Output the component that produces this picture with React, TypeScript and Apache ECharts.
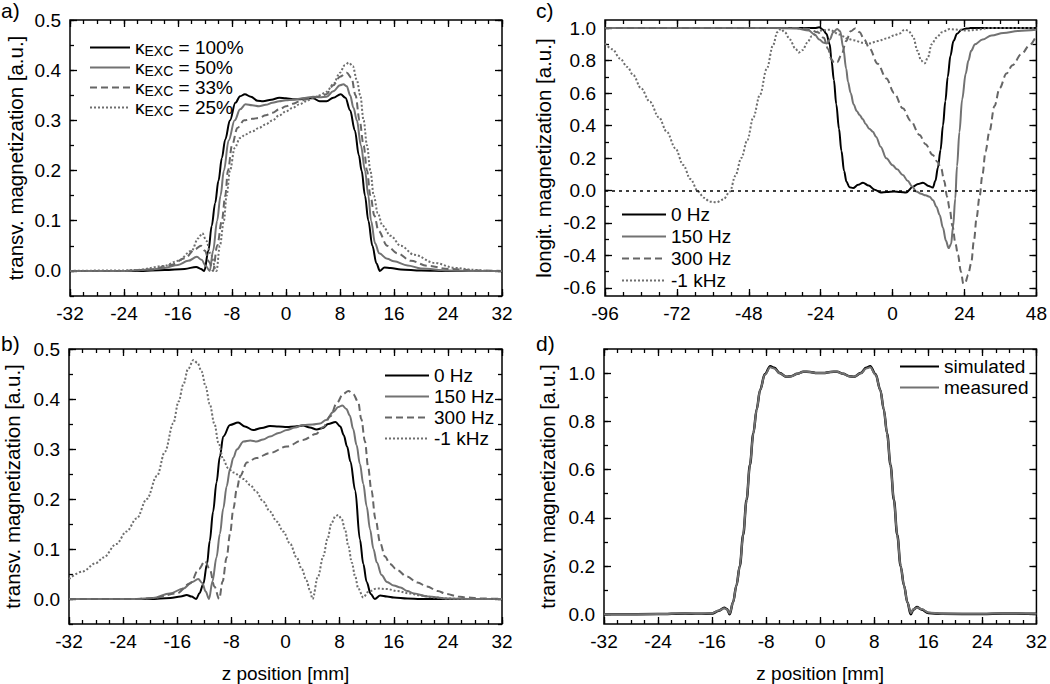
import React, { useEffect, useRef } from 'react';
import * as echarts from 'echarts';

const FONT = '"Liberation Sans", Arial, Helvetica, sans-serif';

// ---------- Panel a: transverse magnetization vs excitation fraction ----------
const aNames = ['κEXC = 100%', 'κEXC = 50%', 'κEXC = 33%', 'κEXC = 25%'];
const aK100: [number, number][] = [[-32,0],[-22,0],[-18,0.002],[-15,0.004],[-13.3,0.008],[-12.6,0.004],[-12.1,0],[-11.5,0.04],[-11,0.09],[-10.5,0.135],[-10,0.18],[-9.5,0.225],[-9,0.262],[-8.3,0.3],[-7.5,0.335],[-6.8,0.348],[-6.1,0.352],[-5.2,0.347],[-4.2,0.339],[-3.4,0.338],[-2.2,0.341],[-1,0.345],[0,0.344],[1,0.342],[2,0.342],[3,0.344],[4,0.344],[5,0.338],[6,0.338],[7,0.345],[8.1,0.352],[8.8,0.345],[9.5,0.32],[10.2,0.28],[10.8,0.23],[11.2,0.2],[11.7,0.15],[12.2,0.1],[12.8,0.05],[13.4,0.015],[13.9,0],[14.6,0.007],[15.5,0.006],[17,0.003],[20,0.001],[24,0],[32,0]];
const aK50: [number, number][] = [[-32,0],[-24,0],[-20,0.003],[-18,0.006],[-16,0.012],[-14.5,0.02],[-13.2,0.028],[-12.5,0.022],[-11.9,0.01],[-11.3,0],[-10.8,0.04],[-10.2,0.1],[-9.7,0.15],[-9.2,0.2],[-8.5,0.26],[-7.6,0.3],[-6.8,0.322],[-6,0.332],[-5,0.33],[-4,0.328],[-3,0.331],[-2,0.335],[-1,0.338],[0,0.34],[1,0.341],[2,0.343],[3,0.345],[4,0.347],[5,0.346],[6,0.347],[7,0.358],[8,0.37],[8.5,0.372],[9,0.368],[9.5,0.35],[10,0.325],[10.5,0.3],[11.1,0.25],[11.7,0.2],[12.2,0.15],[12.6,0.1],[13.2,0.055],[13.8,0.035],[15,0.024],[16,0.019],[18,0.011],[20,0.005],[24,0.001],[28,0],[32,0]];
const aK33: [number, number][] = [[-32,0],[-24,0],[-20,0.003],[-17,0.012],[-15,0.025],[-13.5,0.043],[-12.6,0.05],[-12,0.04],[-11.4,0.018],[-10.8,0],[-10.2,0.05],[-9.5,0.1],[-9,0.15],[-8.6,0.2],[-8,0.25],[-7.2,0.285],[-6.2,0.3],[-5,0.303],[-4,0.305],[-3,0.31],[-2,0.315],[-1,0.322],[0,0.328],[1,0.333],[2,0.338],[3,0.342],[4,0.345],[5,0.348],[6,0.352],[7,0.37],[8,0.387],[9,0.395],[9.7,0.385],[10.3,0.35],[10.9,0.3],[11.5,0.25],[12,0.2],[12.5,0.15],[13.1,0.11],[13.7,0.08],[15,0.05],[16.5,0.035],[18.5,0.02],[21,0.01],[24,0.004],[28,0.001],[32,0]];
const aK25: [number, number][] = [[-32,0],[-24,0.001],[-22,0.002],[-18,0.01],[-16,0.02],[-14,0.04],[-13,0.065],[-12.4,0.075],[-11.8,0.06],[-11.2,0.035],[-10.3,0],[-9.8,0.05],[-9.2,0.1],[-8.8,0.15],[-8.3,0.2],[-7.6,0.245],[-6.8,0.265],[-6,0.272],[-5,0.278],[-4,0.285],[-3,0.292],[-2,0.3],[-1,0.31],[0,0.318],[1,0.325],[2,0.332],[3,0.338],[4,0.345],[5,0.35],[6,0.357],[7,0.372],[8,0.395],[8.7,0.41],[9.3,0.415],[9.9,0.408],[10.5,0.38],[11,0.35],[11.5,0.3],[12,0.25],[12.5,0.2],[13,0.15],[13.6,0.115],[14.3,0.09],[15.5,0.07],[17,0.05],[19,0.032],[22,0.016],[25,0.006],[28,0.002],[30,0],[32,0]];

// ---------- Panel b: transverse magnetization vs off-resonance ----------
const offNames = ['0 Hz', '150 Hz', '300 Hz', '-1 kHz'];
const b0: [number, number][] = [[-32,0],[-20,0],[-17,0.002],[-15.5,0.005],[-14.6,0.008],[-13.9,0.005],[-13.2,0],[-12.7,0.012],[-12.15,0.03],[-11.6,0.07],[-11.2,0.116],[-10.7,0.175],[-10.2,0.233],[-9.7,0.285],[-9.2,0.325],[-8.2,0.348],[-7,0.353],[-6,0.345],[-4.8,0.338],[-3.5,0.342],[-2.3,0.346],[-1,0.345],[0.2,0.344],[1.4,0.345],[2.6,0.347],[3.6,0.343],[4.6,0.339],[5.5,0.342],[6.3,0.35],[7.4,0.354],[8.1,0.345],[8.6,0.328],[9.1,0.305],[9.6,0.275],[10.3,0.217],[11,0.119],[11.5,0.07],[12,0.034],[12.6,0.01],[13.2,0],[14,0.007],[15,0.005],[16,0.003],[18,0.001],[20,0],[32,0]];
const b150: [number, number][] = [[-32,0],[-22,0],[-19.6,0.002],[-17.1,0.011],[-15.1,0.021],[-13.8,0.034],[-12.9,0.04],[-12.3,0.032],[-11.8,0.015],[-11.3,0],[-10.8,0.035],[-10.2,0.083],[-9.7,0.13],[-9.2,0.181],[-8.7,0.225],[-8.2,0.26],[-7.7,0.283],[-7.2,0.299],[-6.2,0.315],[-5.2,0.317],[-4.3,0.315],[-3.3,0.319],[-2.3,0.325],[-1,0.332],[0.2,0.338],[1.4,0.343],[2.6,0.348],[4,0.349],[5.1,0.351],[6,0.358],[7.06,0.374],[7.8,0.384],[8.4,0.387],[9,0.38],[9.5,0.367],[10,0.34],[10.5,0.308],[11,0.27],[11.5,0.23],[12,0.185],[12.5,0.139],[13,0.1],[13.5,0.073],[14.2,0.048],[15,0.034],[16,0.027],[17,0.023],[18,0.016],[19,0.011],[21,0.005],[24,0.001],[28,0],[32,0]];
const b300: [number, number][] = [[-32,0],[-22,0],[-19.6,0.002],[-16.1,0.011],[-14.1,0.031],[-12.8,0.06],[-11.9,0.076],[-11.2,0.06],[-10.5,0.025],[-9.8,0],[-9.3,0.035],[-8.7,0.083],[-8.2,0.13],[-7.7,0.181],[-7.2,0.22],[-6.7,0.246],[-5.7,0.273],[-4.3,0.282],[-2.3,0.292],[0.2,0.305],[2.6,0.318],[4.5,0.33],[5.6,0.344],[6.6,0.365],[7.6,0.392],[8.5,0.41],[9.3,0.416],[10,0.41],[10.75,0.394],[11.2,0.36],[11.75,0.315],[12.2,0.265],[12.7,0.217],[13.3,0.16],[14,0.112],[14.7,0.085],[15.45,0.07],[16.5,0.058],[17.9,0.045],[19.5,0.033],[20.9,0.025],[22.5,0.016],[23.8,0.01],[25.5,0.005],[26.8,0.003],[29,0.001],[32,0]];
const b1k: [number, number][] = [[-32,0.04],[-30,0.055],[-28,0.072],[-26.9,0.083],[-25,0.11],[-23.5,0.135],[-22,0.161],[-20.5,0.2],[-19,0.246],[-17.8,0.295],[-16.6,0.351],[-15.8,0.395],[-15.1,0.429],[-14.4,0.46],[-13.6,0.478],[-13,0.472],[-12.4,0.455],[-11.8,0.425],[-11.2,0.39],[-10.5,0.35],[-9.9,0.312],[-9.2,0.279],[-8.5,0.262],[-7.7,0.253],[-6.2,0.24],[-5.2,0.228],[-4.3,0.214],[-3.3,0.195],[-2.3,0.175],[-1.3,0.155],[-0.33,0.135],[0.7,0.11],[1.65,0.083],[2.4,0.06],[3.1,0.037],[3.6,0.018],[4,0],[4.8,0.045],[5.6,0.086],[6.2,0.12],[6.8,0.152],[7.4,0.166],[7.8,0.168],[8.3,0.16],[8.8,0.139],[9.3,0.105],[9.8,0.073],[10.3,0.045],[10.75,0.021],[11.5,0.003],[12.2,0.014],[13.5,0.021],[15,0.02],[16.5,0.016],[18.4,0.011],[20,0.007],[22,0.003],[24,0.001],[26,0],[32,0]];

// ---------- Panel c: longitudinal magnetization ----------
const c0: [number, number][] = [[-96,1],[-30,1],[-26,1],[-24.5,1.005],[-23.2,0.99],[-22.1,0.965],[-21,0.9],[-20.4,0.8],[-19.6,0.68],[-18.8,0.53],[-17.9,0.38],[-17.1,0.245],[-16.2,0.12],[-15.4,0.054],[-14.4,0.02],[-13.2,0.015],[-11.5,0.035],[-9.9,0.048],[-8,0.03],[-6,0.005],[-4,-0.012],[-2,-0.01],[0.5,-0.007],[2.5,-0.01],[4.5,-0.012],[6.8,0.023],[8.5,0.04],[10.1,0.048],[12,0.028],[13.4,0.018],[14.3,0.06],[15.1,0.14],[16,0.25],[16.8,0.4],[17.6,0.55],[18.4,0.7],[19.3,0.83],[20.3,0.92],[21.5,0.965],[23,0.99],[24.6,0.997],[26,1],[48,1]];
const c150: [number, number][] = [[-96,1],[-40,1],[-32,0.998],[-28,0.985],[-26,0.96],[-24.5,0.93],[-23,0.91],[-22,0.906],[-21,0.93],[-19.8,0.975],[-18.5,0.995],[-17.5,0.98],[-16.5,0.88],[-15.5,0.75],[-14.9,0.67],[-14,0.6],[-13,0.53],[-12,0.49],[-11,0.465],[-10,0.44],[-9,0.41],[-7.8,0.38],[-6.6,0.362],[-5.5,0.33],[-4,0.27],[-2.1,0.198],[0,0.155],[1.5,0.13],[3.4,0.095],[5,0.06],[6.5,0.025],[7.9,-0.007],[9.5,-0.02],[11,-0.03],[12.3,-0.038],[13.5,-0.06],[14.6,-0.1],[15.7,-0.151],[16.8,-0.23],[17.8,-0.31],[18.7,-0.355],[19.5,-0.33],[20.2,-0.22],[20.9,-0.05],[21.5,0.15],[22.3,0.36],[23.2,0.56],[24.4,0.72],[25.3,0.8],[26.2,0.86],[27.5,0.9],[30,0.93],[33,0.955],[37,0.97],[42,0.983],[48,0.99]];
const c300: [number, number][] = [[-96,1],[-32,1],[-28,0.995],[-25,0.975],[-23,0.94],[-21.5,0.87],[-20.5,0.81],[-19.5,0.785],[-18.5,0.79],[-17,0.84],[-15.5,0.92],[-14,0.98],[-12.5,0.998],[-11,0.975],[-9.5,0.93],[-7.7,0.875],[-5,0.78],[-2.1,0.69],[0.5,0.6],[3.4,0.506],[6,0.43],[9,0.342],[11,0.285],[13.4,0.218],[15,0.175],[16.2,0.136],[17.2,0.06],[18.2,-0.04],[19,-0.11],[20,-0.22],[21,-0.33],[21.8,-0.397],[22.8,-0.5],[23.6,-0.575],[24.3,-0.565],[25.2,-0.52],[26.2,-0.45],[27.2,-0.3],[28,-0.17],[29,-0.04],[30,0.1],[31,0.24],[32.3,0.362],[34,0.52],[35.7,0.629],[38,0.72],[40,0.772],[43,0.84],[45.7,0.895],[48,0.955]];
const c1k: [number, number][] = [[-96,0.906],[-93.5,0.87],[-91,0.813],[-88.5,0.76],[-86.6,0.711],[-84,0.63],[-81,0.546],[-78,0.45],[-75.4,0.362],[-72.5,0.26],[-69.9,0.157],[-67.5,0.07],[-64.9,-0.007],[-63,-0.045],[-61,-0.069],[-58.8,-0.073],[-56.5,-0.055],[-54.3,-0.007],[-52.5,0.09],[-50.5,0.2],[-48.5,0.31],[-46.5,0.45],[-44.3,0.588],[-42,0.75],[-39.9,0.895],[-38.5,0.975],[-37.3,0.995],[-36,0.975],[-34.3,0.93],[-32.5,0.875],[-31.3,0.85],[-30,0.865],[-28.5,0.91],[-27,0.95],[-24.3,0.985],[-21,0.99],[-17.7,0.96],[-15,0.935],[-13.2,0.926],[-10,0.91],[-7.7,0.906],[-5,0.92],[-2.1,0.936],[0.5,0.955],[2.3,0.967],[4,0.99],[5.2,0.985],[6.8,0.95],[8.3,0.86],[9.5,0.8],[10.7,0.783],[11.8,0.82],[13,0.9],[14.6,0.94],[16.5,0.975],[19,0.994],[22,0.99],[25,0.985],[28,0.99],[32,1],[48,1]];

// ---------- Panel d: simulated vs measured ----------
const dNames = ['simulated', 'measured'];
const dSim: [number, number][] = [[-32,0],[-24,0.001],[-20,0.004],[-18,0.002],[-16,0.004],[-15,0.015],[-14.2,0.027],[-13.8,0.022],[-13.4,0],[-12.9,0.05],[-12.4,0.12],[-11.9,0.2],[-11.4,0.33],[-10.9,0.475],[-10.4,0.62],[-9.9,0.75],[-9.4,0.85],[-8.9,0.93],[-8.2,0.995],[-7.4,1.028],[-6.8,1.022],[-6,1.0],[-5,0.985],[-4.3,0.987],[-3.4,0.997],[-2.5,1.006],[-1.5,1.005],[-0.5,1.0],[0.5,1.0],[1.5,1.005],[2.5,1.006],[3.4,0.997],[4.3,0.987],[5,0.985],[6,1.0],[6.8,1.022],[7.4,1.028],[8.2,0.995],[8.9,0.93],[9.4,0.85],[9.9,0.75],[10.4,0.62],[10.9,0.475],[11.4,0.33],[11.9,0.2],[12.4,0.12],[12.9,0.05],[13.4,0],[13.8,0.02],[14.3,0.03],[15,0.02],[16,0.006],[18,0.002],[24,0.001],[27,0.004],[32,0.002]];
const dMeas: [number, number][] = [[-32,0],[-24,0.001],[-20,0.005],[-18,0.003],[-16,0.005],[-15,0.016],[-14.2,0.025],[-13.8,0.02],[-13.4,0.004],[-12.9,0.05],[-12.4,0.12],[-11.9,0.2],[-11.4,0.33],[-10.9,0.475],[-10.4,0.62],[-9.9,0.75],[-9.4,0.85],[-8.9,0.93],[-8.2,0.993],[-7.4,1.024],[-6.8,1.019],[-6,0.999],[-5,0.985],[-4.3,0.987],[-3.4,0.997],[-2.5,1.006],[-1.5,1.005],[-0.5,1.0],[0.5,1.0],[1.5,1.005],[2.5,1.006],[3.4,0.997],[4.3,0.987],[5,0.985],[6,0.999],[6.8,1.019],[7.4,1.024],[8.2,0.993],[8.9,0.93],[9.4,0.85],[9.9,0.75],[10.4,0.62],[10.9,0.475],[11.4,0.33],[11.9,0.2],[12.4,0.12],[12.9,0.05],[13.4,0.006],[13.8,0.022],[14.4,0.028],[15,0.022],[16,0.008],[18,0.003],[24,0.002],[27,0.005],[32,0.003]];

// ---------- axis definitions ----------
const xTicksZ = [-32, -24, -16, -8, 0, 8, 16, 24, 32];
const xTicksC = [-96, -72, -48, -24, 0, 24, 48];
const yTicksAB = [0, 0.1, 0.2, 0.3, 0.4, 0.5];
const yTicksC = [-0.6, -0.4, -0.2, 0, 0.2, 0.4, 0.6, 0.8, 1.0];
const yTicksD = [0, 0.2, 0.4, 0.6, 0.8, 1.0];

const BLACK = '#000000';
const GRAY = '#727272';
const GRAY_DASH = '#666666';
const GRAY_DOT = '#6e6e6e';

const TICK_FS = 19;
const YNAME_FS = 20.5;
const XNAME_FS = 19;
const LEG_FS = 19;

function steps(a: number, b: number, s: number): number[] {
  const out: number[] = [];
  const n = Math.round((b - a) / s);
  for (let i = 0; i <= n; i++) out.push(+(a + i * s).toFixed(6));
  return out;
}

interface PanelDef {
  grid: { left: number; top: number; width: number; height: number };
  xMin: number; xMax: number; xMajor: number[]; xMinor: number[];
  yMin: number; yMax: number; yMajor: number[]; yMinor: number[];
  xName?: string; yName: string; yNameGap: number;
}

const panels: PanelDef[] = [
  { grid: { left: 70, top: 20, width: 432, height: 276 }, xMin: -32, xMax: 32, xMajor: xTicksZ, xMinor: steps(-32, 32, 2),
    yMin: -0.05, yMax: 0.5, yMajor: yTicksAB, yMinor: steps(-0.05, 0.5, 0.05), yName: 'transv. magnetization [a.u.]', yNameGap: 44 },
  { grid: { left: 69, top: 349, width: 433, height: 276 }, xMin: -32, xMax: 32, xMajor: xTicksZ, xMinor: steps(-32, 32, 2),
    yMin: -0.05, yMax: 0.5, yMajor: yTicksAB, yMinor: steps(-0.05, 0.5, 0.05), xName: 'z position [mm]', yName: 'transv. magnetization [a.u.]', yNameGap: 46 },
  { grid: { left: 605, top: 20, width: 432, height: 276 }, xMin: -96, xMax: 48, xMajor: xTicksC, xMinor: steps(-96, 48, 6),
    yMin: -0.65, yMax: 1.05, yMajor: yTicksC, yMinor: steps(-0.6, 1.0, 0.1), yName: 'longit. magnetization [a.u.]', yNameGap: 51 },
  { grid: { left: 604, top: 349, width: 433, height: 276 }, xMin: -32, xMax: 32, xMajor: xTicksZ, xMinor: steps(-32, 32, 2),
    yMin: -0.04, yMax: 1.1, yMajor: yTicksD, yMinor: steps(0, 1.1, 0.1), xName: 'z position [mm]', yName: 'transv. magnetization [a.u.]', yNameGap: 46 },
];

const tickLine = { color: '#000', width: 1.3 };

function buildAxes() {
  const xAxis: any[] = [];
  const yAxis: any[] = [];
  panels.forEach((p, gi) => {
    const common = { type: 'value', gridIndex: gi, splitLine: { show: false } };
    const xc = { ...common, min: p.xMin, max: p.xMax };
    const yc = { ...common, min: p.yMin, max: p.yMax };
    xAxis.push({ ...xc, position: 'bottom', axisLine: { show: false, onZero: false },
      axisTick: { show: true, inside: true, length: 7, lineStyle: tickLine, customValues: p.xMajor },
      axisLabel: { show: true, customValues: p.xMajor, margin: 8, fontSize: TICK_FS, color: '#000', fontFamily: FONT, formatter: (v: number) => String(v) },
      name: p.xName || '', nameLocation: 'middle', nameGap: 40,
      nameTextStyle: { fontSize: XNAME_FS, color: '#000', fontFamily: FONT } });
    xAxis.push({ ...xc, position: 'bottom', axisLine: { show: false, onZero: false },
      axisTick: { show: true, inside: true, length: 4, lineStyle: tickLine, customValues: p.xMinor }, axisLabel: { show: false } });
    xAxis.push({ ...xc, position: 'top', axisLine: { show: false, onZero: false },
      axisTick: { show: true, inside: true, length: 7, lineStyle: tickLine, customValues: p.xMajor }, axisLabel: { show: false } });
    xAxis.push({ ...xc, position: 'top', axisLine: { show: false, onZero: false },
      axisTick: { show: true, inside: true, length: 4, lineStyle: tickLine, customValues: p.xMinor }, axisLabel: { show: false } });
    yAxis.push({ ...yc, position: 'left', axisLine: { show: false, onZero: false },
      axisTick: { show: true, inside: true, length: 7, lineStyle: tickLine, customValues: p.yMajor },
      axisLabel: { show: true, customValues: p.yMajor, margin: 9, fontSize: TICK_FS, color: '#000', fontFamily: FONT, formatter: (v: number) => v.toFixed(1) },
      name: p.yName, nameLocation: 'middle', nameGap: p.yNameGap,
      nameTextStyle: { fontSize: YNAME_FS, color: '#000', fontFamily: FONT } });
    yAxis.push({ ...yc, position: 'left', axisLine: { show: false, onZero: false },
      axisTick: { show: true, inside: true, length: 4, lineStyle: tickLine, customValues: p.yMinor }, axisLabel: { show: false } });
    yAxis.push({ ...yc, position: 'right', axisLine: { show: false, onZero: false },
      axisTick: { show: true, inside: true, length: 7, lineStyle: tickLine, customValues: p.yMajor }, axisLabel: { show: false } });
    yAxis.push({ ...yc, position: 'right', axisLine: { show: false, onZero: false },
      axisTick: { show: true, inside: true, length: 4, lineStyle: tickLine, customValues: p.yMinor }, axisLabel: { show: false } });
  });
  return { xAxis, yAxis };
}

function line(name: string, panel: number, data: [number, number][], color: string, type: any, extra: any = {}) {
  return {
    type: 'line', name, data, xAxisIndex: panel * 4, yAxisIndex: panel * 4,
    symbol: 'none', showSymbol: false, smooth: 0.35, smoothMonotone: 'x',
    lineStyle: { color, width: 2, type }, itemStyle: { color }, z: 3,
    ...extra,
  };
}

const DASH = [7, 4];
const DOT = [2, 2];

export default function App() {
  const ref = useRef<HTMLDivElement>(null);
  useEffect(() => {
    if (!ref.current) return;
    const chart = echarts.init(ref.current, undefined, { renderer: 'svg' });
    const { xAxis, yAxis } = buildAxes();
    const legendText = { fontSize: LEG_FS, color: '#000', fontFamily: FONT };
    const hiddenSymbol = { color: 'rgba(0,0,0,0)', borderColor: 'rgba(0,0,0,0)', borderWidth: 0 };
    const option: any = {
      animation: false,
      backgroundColor: '#fff',
      grid: panels.map((p) => ({ ...p.grid, show: true, borderColor: '#000', borderWidth: 1.5, backgroundColor: 'transparent' })),
      xAxis, yAxis,
      legend: [
        { data: aNames, orient: 'vertical', left: 84, top: 33, itemWidth: 40, itemHeight: 12, itemGap: 0, itemStyle: hiddenSymbol,
          formatter: (n: string) => `{k|κ}{s|EXC}{t|${n.slice(4)}}`,
          textStyle: { ...legendText, rich: {
            k: { fontSize: LEG_FS, fontFamily: FONT, color: '#000', lineHeight: 21 },
            s: { fontSize: 14, fontFamily: FONT, color: '#000', lineHeight: 10, verticalAlign: 'bottom' },
            t: { fontSize: LEG_FS, fontFamily: FONT, color: '#000', lineHeight: 21 } } } },
        { data: offNames, orient: 'vertical', left: 379, top: 361, itemWidth: 44, itemHeight: 12, itemGap: 2, itemStyle: hiddenSymbol, textStyle: legendText },
        { data: offNames.map((n) => n), orient: 'vertical', left: 616, top: 200, itemWidth: 44, itemHeight: 12, itemGap: 3, itemStyle: hiddenSymbol, textStyle: legendText },
        { data: dNames, orient: 'vertical', left: 894, top: 352, itemWidth: 39, itemHeight: 12, itemGap: 2, itemStyle: hiddenSymbol, textStyle: legendText },
      ],
      graphic: [
        { type: 'text', left: 1, top: 0, style: { text: 'a)', fontSize: 21, fontFamily: FONT, fill: '#000' } },
        { type: 'text', left: 1, top: 333, style: { text: 'b)', fontSize: 21, fontFamily: FONT, fill: '#000' } },
        { type: 'text', left: 536, top: 0, style: { text: 'c)', fontSize: 21, fontFamily: FONT, fill: '#000' } },
        { type: 'text', left: 536, top: 333, style: { text: 'd)', fontSize: 21, fontFamily: FONT, fill: '#000' } },
      ],
      series: [
        line(aNames[0], 0, aK100, BLACK, 'solid'),
        line(aNames[1], 0, aK50, GRAY, 'solid'),
        line(aNames[2], 0, aK33, GRAY_DASH, DASH),
        line(aNames[3], 0, aK25, GRAY_DOT, DOT),
        line(offNames[0], 1, b0, BLACK, 'solid'),
        line(offNames[1], 1, b150, GRAY, 'solid'),
        line(offNames[2], 1, b300, GRAY_DASH, DASH),
        line(offNames[3], 1, b1k, GRAY_DOT, DOT),
        line(offNames[0], 2, c0, BLACK, 'solid', {
          markLine: { silent: true, symbol: 'none', label: { show: false },
            lineStyle: { color: '#000', width: 1.5, type: [3, 4] }, data: [{ yAxis: 0 }] } }),
        line(offNames[1], 2, c150, GRAY, 'solid'),
        line(offNames[2], 2, c300, GRAY_DASH, DASH),
        line(offNames[3], 2, c1k, GRAY_DOT, DOT),
        line(dNames[0], 3, dSim, BLACK, 'solid', { lineStyle: { color: BLACK, width: 2.5 } }),
        line(dNames[1], 3, dMeas, GRAY, 'solid'),
      ],
    };
    chart.setOption(option);
    return () => chart.dispose();
  }, []);
  return <div ref={ref} style={{ position: 'absolute', left: 0, top: 0, width: 1050, height: 684, background: '#fff' }} />;
}
